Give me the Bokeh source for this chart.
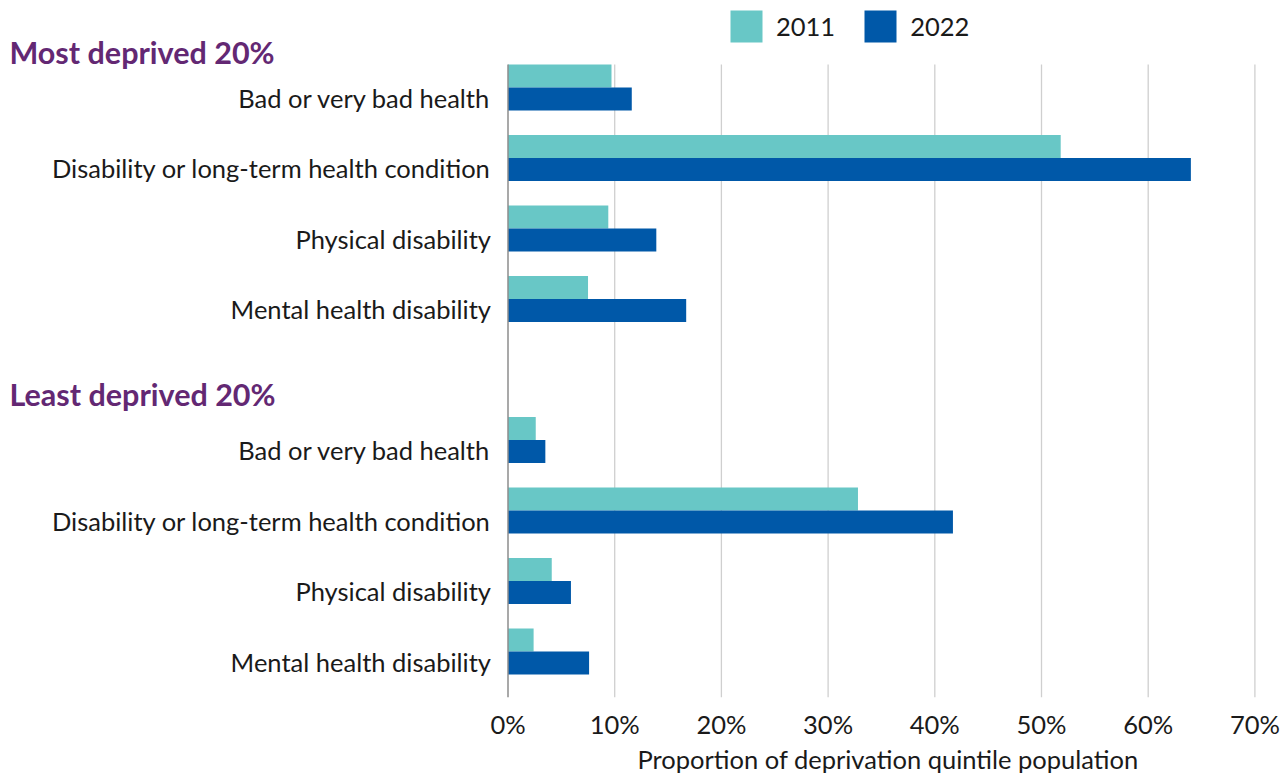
from bokeh.plotting import figure
from bokeh.models import (Range1d, FixedTicker, Label, Legend, LegendItem,
                          ColumnDataSource, PrintfTickFormatter, Title)
from bokeh.core.properties import value
from bokeh.embed import file_html
from bokeh.resources import INLINE

# ---------------- data ----------------
categories = ["Bad or very bad health",
              "Disability or long-term health condition",
              "Physical disability",
              "Mental health disability"]
groups = ["Most deprived 20%", "Least deprived 20%"]
series = ["2011", "2022"]
most_2011 = [9.7, 51.8, 9.4, 7.5]
most_2022 = [11.6, 64.0, 13.9, 16.7]
least_2011 = [2.6, 32.8, 4.1, 2.4]
least_2022 = [3.5, 41.7, 5.9, 7.6]
x_ticks = [0, 10, 20, 30, 40, 50, 60, 70]
x_title = "Proportion of deprivation quintile population"

# ---------------- style ----------------
C2011 = "#68C7C6"
C2022 = "#0058A8"
PURPLE = "#632873"
FONT = "Lato"
TXT = "#1a1a1a"
FS = "25.5px"

W, H = 1288, 774
BORDER_BOTTOM = 77
FRAME_H = H - BORDER_BOTTOM
PX_PER_PCT = 10.67          # horizontal scale
ZERO_PX = 507.5             # where 0% sits in the canvas
SLOT_PX = 70.5              # vertical pitch of a category row
ROW0_PX = 87.0              # centre of first row

n = len(categories)
rows_most = list(range(n))
rows_least = [n + 1 + i for i in range(n)]
bar_h = 0.326

x0 = -ZERO_PX / PX_PER_PCT
x1 = x0 + W / PX_PER_PCT
y_top = -ROW0_PX / SLOT_PX
y_bot = y_top + FRAME_H / SLOT_PX

p = figure(width=W, height=H, output_backend="svg", toolbar_location=None,
           x_range=Range1d(x0, x1), y_range=Range1d(y_bot, y_top),
           min_border_left=0, min_border_right=0,
           min_border_top=0, min_border_bottom=BORDER_BOTTOM)
p.outline_line_color = None
p.background_fill_color = "white"
p.border_fill_color = "white"
p.yaxis.visible = False
p.ygrid.grid_line_color = None
p.xgrid.grid_line_color = None

# plot-area bounds (top of first bar to bottom of frame)
area_top = rows_most[0] - bar_h
area_bot = y_bot

# vertical gridlines
gx = [t for t in x_ticks if t > 0]
p.segment(x0=gx, x1=gx, y0=[area_top] * len(gx), y1=[area_bot] * len(gx),
          line_color="#CFCFCF", line_width=1.3)

y11 = [r - bar_h / 2 for r in rows_most] + [r - bar_h / 2 for r in rows_least]
y22 = [r + bar_h / 2 for r in rows_most] + [r + bar_h / 2 for r in rows_least]
src11 = ColumnDataSource(dict(y=y11, v=most_2011 + least_2011))
src22 = ColumnDataSource(dict(y=y22, v=most_2022 + least_2022))

r11 = p.hbar(y="y", right="v", left=0, height=bar_h, source=src11,
             fill_color=C2011, line_color=None)
r22 = p.hbar(y="y", right="v", left=0, height=bar_h, source=src22,
             fill_color=C2022, line_color=None)

# category axis line (at 0%)
p.segment(x0=[0], x1=[0], y0=[area_top], y1=[area_bot],
          line_color="#8C8C8C", line_width=1.5)

# category labels
all_rows = rows_most + rows_least
cat_src = ColumnDataSource(dict(y=all_rows,
                                t=[categories[i % n] for i in range(len(all_rows))]))
p.text(x=0, y="y", text="t", source=cat_src, x_offset=-17, y_offset=10,
       text_align="right", text_baseline="middle",
       text_font=value(FONT), text_font_size=value(FS), text_color=TXT)

# group headers
head_y = [rows_most[0] - 36 / SLOT_PX, rows_least[0] - 46 / SLOT_PX]
for txt, hy in zip(groups, head_y):
    p.add_layout(Label(x=x0 + 9 / PX_PER_PCT, y=hy, text=txt, text_font=FONT,
                       text_font_style="bold", text_font_size="30.5px",
                       text_color=PURPLE, text_baseline="middle",
                       text_align="left"))

# x axis
p.xaxis.bounds = (x_ticks[0], x_ticks[-1])
p.xaxis.ticker = FixedTicker(ticks=x_ticks)
p.xaxis.formatter = PrintfTickFormatter(format="%d%%")
p.xaxis.axis_line_color = None
p.xaxis.major_tick_line_color = None
p.xaxis.minor_tick_line_color = None
p.xaxis.major_label_text_font = FONT
p.xaxis.major_label_text_font_size = FS
p.xaxis.major_label_text_color = TXT
p.xaxis.major_label_standoff = 5

# x axis title, centred under the 0-70% span
p.add_layout(Title(text=x_title, align="left", offset=637, standoff=0,
                   text_font=FONT, text_font_style="normal",
                   text_font_size=FS, text_color=TXT), "below")

# legend (inside frame, top area)
legend = Legend(items=[LegendItem(label=series[0], renderers=[r11]),
                       LegendItem(label=series[1], renderers=[r22])],
                location=(726, FRAME_H - 46),
                orientation="horizontal",
                glyph_width=40, glyph_height=40, label_height=40,
                label_standoff=10, spacing=25, padding=0, margin=0,
                border_line_color=None, background_fill_alpha=0,
                label_text_font=FONT, label_text_font_size=FS,
                label_text_color=TXT)
p.add_layout(legend, "center")

open("out.html", "w").write(file_html(p, INLINE))
